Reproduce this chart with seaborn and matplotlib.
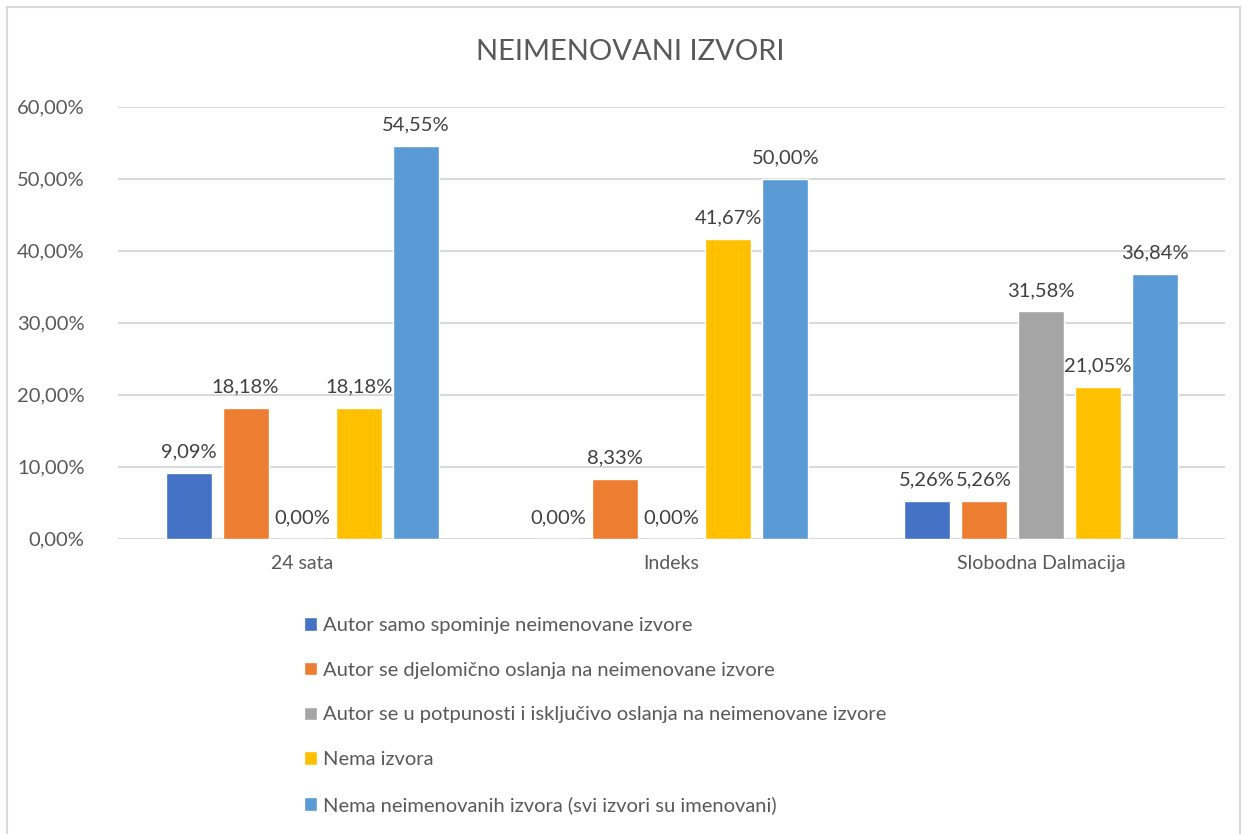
import matplotlib
matplotlib.use("Agg")
import matplotlib.pyplot as plt
from matplotlib.patches import Rectangle
import seaborn as sns
import pandas as pd

# data
outlets = ["24 sata", "Indeks", "Slobodna Dalmacija"]
series = [
    "Autor samo spominje neimenovane izvore",
    "Autor se djelomično oslanja na neimenovane izvore",
    "Autor se u potpunosti i isključivo oslanja na neimenovane izvore",
    "Nema izvora",
    "Nema neimenovanih izvora (svi izvori su imenovani)",
]
values = [
    [0.0909, 0.0000, 0.0526],
    [0.1818, 0.0833, 0.0526],
    [0.0000, 0.0000, 0.3158],
    [0.1818, 0.4167, 0.2105],
    [0.5455, 0.5000, 0.3684],
]
colors = ["#4472c4", "#ed7d31", "#a5a5a5", "#ffc000", "#5b9bd5"]

rows = []
for s, vals in zip(series, values):
    for o, v in zip(outlets, vals):
        rows.append({"outlet": o, "series": s, "value": v})
df = pd.DataFrame(rows)

sns.set_style("white")
plt.rcParams["font.family"] = ["Lato", "DejaVu Sans"]
text_col = "#595959"

fig = plt.figure(figsize=(12.53, 8.34), dpi=100)
ax = fig.add_axes([0.094, 0.354, 0.884, 0.518])

sns.barplot(data=df, x="outlet", y="value", hue="series", hue_order=series,
            palette=colors, width=0.77, gap=0.19, ax=ax, legend=True,
            saturation=1, errorbar=None)

ax.set_ylim(0, 0.6)
ax.set_xlim(-0.5, 2.5)
ticks = [i / 10 for i in range(7)]
ax.set_yticks(ticks)
ax.set_yticklabels([f"{t * 100:.2f}%".replace(".", ",") for t in ticks],
                   fontsize=14.5, color=text_col)
ax.tick_params(axis="x", labelsize=14, labelcolor=text_col, length=0, pad=12)
ax.tick_params(axis="y", length=0, pad=24)
ax.yaxis.grid(True, color="#d9d9d9", linewidth=1.5)
ax.set_axisbelow(True)
for sp in ax.spines.values():
    sp.set_visible(False)
ax.set_xlabel("")
ax.set_ylabel("")

for cont in ax.containers:
    labels = [f"{v * 100:.2f}%".replace(".", ",") for v in cont.datavalues]
    ax.bar_label(cont, labels=labels, padding=9, fontsize=14.5, color="#404040")

fig.text(0.503, 0.938, "NEIMENOVANI IZVORI", ha="center", va="center",
         fontsize=21, color=text_col)

handles, labs = ax.get_legend_handles_labels()
ax.get_legend().remove()
fig.legend(handles, labs, loc="upper left", bbox_to_anchor=(0.236, 0.270),
           frameon=False, fontsize=14.5, labelcolor=text_col,
           handlelength=0.65, handleheight=0.65, handletextpad=0.3,
           labelspacing=1.38, borderaxespad=0)

fig.add_artist(Rectangle((7 / 1253, -0.02), 1233 / 1253, 1 - 7 / 834 + 0.02,
                         transform=fig.transFigure, fill=False,
                         edgecolor="#d9d9d9", linewidth=1.5))

fig.savefig("out.png", dpi=100, facecolor="white")
